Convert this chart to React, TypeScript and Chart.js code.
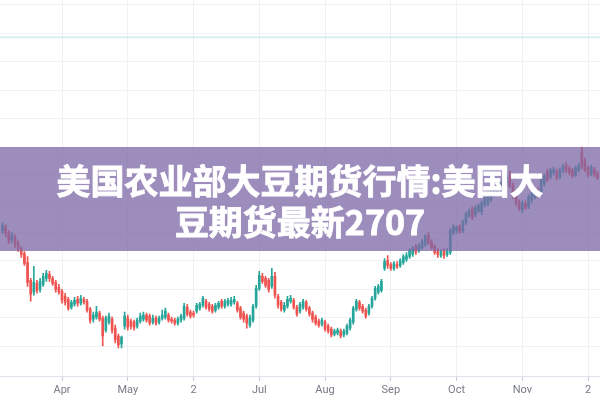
import React, { useEffect, useRef } from 'react';
import { Chart, registerables } from 'chart.js';

Chart.register(...registerables);

const monthLabels = ['Apr', 'May', '2', 'Jul', 'Aug', 'Sep', 'Oct', 'Nov', '2'];
const monthStartIndex = [19, 40, 61, 82, 103, 124, 145, 166, 187];

const opens = [
  1368, 1372, 1366, 1359, 1361, 1355, 1350, 1345, 1336, 1318,
  1306, 1315, 1309, 1314, 1320, 1324, 1320, 1316, 1311, 1307,
  1302, 1299, 1291, 1294, 1299, 1295, 1299, 1297, 1289, 1279,
  1281, 1285, 1280, 1268, 1276, 1279, 1270, 1262, 1254, 1272,
  1280, 1277, 1276, 1272, 1277, 1279, 1283, 1282, 1276, 1280,
  1276, 1280, 1281, 1283, 1279, 1278, 1275, 1278, 1280, 1291,
  1286, 1285, 1287, 1290, 1293, 1297, 1294, 1292, 1288, 1291,
  1297, 1292, 1294, 1294, 1296, 1295, 1290, 1285, 1282, 1273,
  1278, 1292, 1310, 1322, 1320, 1318, 1312, 1322, 1302, 1296,
  1288, 1292, 1297, 1298, 1291, 1287, 1291, 1296, 1290, 1285,
  1281, 1277, 1274, 1276, 1272, 1269, 1264, 1265, 1267, 1263,
  1265, 1270, 1276, 1289, 1296, 1292, 1288, 1285, 1292, 1300,
  1306, 1308, 1330, 1338, 1334, 1330, 1334, 1333, 1336, 1339,
  1342, 1344, 1352, 1348, 1351, 1354, 1363, 1357, 1352, 1348,
  1343, 1348, 1344, 1346, 1366, 1368, 1372, 1368, 1376, 1383,
  1390, 1384, 1388, 1387, 1394, 1395, 1399, 1404, 1406, 1409,
  1413, 1415, 1422, 1413, 1404, 1396, 1389, 1395, 1392, 1399,
  1402, 1409, 1405, 1415, 1427, 1422, 1426, 1428, 1422, 1428,
  1434, 1431, 1429, 1424, 1429, 1447, 1438, 1431, 1425, 1430,
  1426,
];

const closes = [
  1373, 1366, 1358, 1363, 1354, 1350, 1344, 1335, 1316, 1304,
  1316, 1308, 1317, 1322, 1325, 1320, 1315, 1309, 1306, 1298,
  1296, 1290, 1296, 1298, 1295, 1300, 1296, 1288, 1278, 1283,
  1286, 1279, 1262, 1280, 1282, 1268, 1258, 1253, 1261, 1282,
  1271, 1272, 1271, 1278, 1282, 1283, 1278, 1275, 1280, 1275,
  1280, 1283, 1287, 1278, 1277, 1275, 1279, 1282, 1292, 1284,
  1282, 1283, 1293, 1294, 1300, 1291, 1289, 1287, 1293, 1295,
  1292, 1297, 1298, 1298, 1299, 1288, 1281, 1279, 1275, 1280,
  1292, 1310, 1323, 1317, 1313, 1309, 1322, 1303, 1293, 1289,
  1293, 1299, 1300, 1291, 1284, 1294, 1297, 1289, 1284, 1279,
  1275, 1273, 1278, 1269, 1267, 1263, 1267, 1268, 1262, 1267,
  1272, 1278, 1290, 1297, 1290, 1287, 1282, 1292, 1300, 1310,
  1312, 1317, 1337, 1333, 1330, 1335, 1332, 1338, 1342, 1343,
  1348, 1350, 1346, 1353, 1357, 1362, 1356, 1351, 1346, 1344,
  1347, 1343, 1347, 1368, 1372, 1371, 1367, 1377, 1385, 1388,
  1381, 1391, 1393, 1396, 1400, 1403, 1407, 1410, 1413, 1417,
  1420, 1423, 1413, 1403, 1396, 1390, 1396, 1391, 1402, 1406,
  1409, 1403, 1419, 1423, 1419, 1429, 1430, 1421, 1429, 1433,
  1428, 1426, 1423, 1431, 1433, 1432, 1429, 1424, 1432, 1424,
  1421,
];

const highs = [
  1376, 1374, 1368, 1366, 1364, 1358, 1352, 1347, 1342, 1320,
  1332, 1318, 1320, 1325, 1328, 1327, 1322, 1318, 1314, 1309,
  1305, 1301, 1298, 1301, 1302, 1303, 1301, 1299, 1291, 1286,
  1292, 1287, 1282, 1282, 1285, 1281, 1273, 1264, 1262, 1286,
  1283, 1279, 1278, 1280, 1285, 1286, 1285, 1284, 1283, 1282,
  1282, 1288, 1290, 1285, 1281, 1280, 1281, 1284, 1295, 1294,
  1288, 1287, 1295, 1296, 1302, 1299, 1296, 1294, 1295, 1297,
  1299, 1299, 1300, 1301, 1302, 1297, 1292, 1287, 1284, 1283,
  1294, 1313, 1327, 1325, 1322, 1320, 1330, 1326, 1304, 1298,
  1296, 1302, 1303, 1300, 1293, 1296, 1299, 1298, 1292, 1287,
  1283, 1279, 1280, 1278, 1274, 1271, 1269, 1270, 1269, 1269,
  1274, 1280, 1292, 1299, 1298, 1294, 1290, 1294, 1302, 1312,
  1314, 1319, 1340, 1343, 1336, 1337, 1337, 1340, 1344, 1346,
  1350, 1352, 1354, 1355, 1359, 1364, 1366, 1359, 1354, 1350,
  1349, 1350, 1350, 1370, 1374, 1373, 1374, 1379, 1387, 1390,
  1392, 1393, 1395, 1398, 1402, 1405, 1409, 1412, 1415, 1419,
  1422, 1426, 1428, 1416, 1407, 1399, 1398, 1398, 1404, 1408,
  1411, 1411, 1421, 1425, 1430, 1431, 1432, 1430, 1431, 1435,
  1437, 1433, 1431, 1433, 1436, 1452, 1441, 1433, 1434, 1432,
  1428,
];

const lows = [
  1365, 1362, 1355, 1356, 1351, 1347, 1341, 1333, 1312, 1297,
  1303, 1305, 1306, 1312, 1317, 1317, 1313, 1306, 1304, 1295,
  1293, 1288, 1289, 1292, 1292, 1293, 1294, 1286, 1275, 1276,
  1279, 1277, 1252, 1266, 1274, 1265, 1255, 1250, 1250, 1269,
  1268, 1269, 1268, 1270, 1275, 1277, 1276, 1273, 1274, 1273,
  1274, 1278, 1279, 1276, 1275, 1273, 1273, 1276, 1278, 1282,
  1280, 1281, 1285, 1288, 1291, 1289, 1287, 1285, 1286, 1289,
  1290, 1290, 1292, 1292, 1294, 1286, 1279, 1276, 1270, 1271,
  1276, 1290, 1308, 1315, 1311, 1306, 1310, 1300, 1290, 1287,
  1286, 1290, 1295, 1289, 1282, 1285, 1289, 1287, 1282, 1276,
  1273, 1271, 1272, 1267, 1265, 1261, 1262, 1263, 1260, 1261,
  1263, 1268, 1274, 1287, 1288, 1285, 1280, 1283, 1290, 1298,
  1304, 1306, 1328, 1330, 1328, 1328, 1330, 1331, 1334, 1337,
  1340, 1342, 1344, 1346, 1349, 1352, 1354, 1349, 1344, 1341,
  1341, 1340, 1342, 1344, 1364, 1365, 1365, 1366, 1374, 1381,
  1379, 1382, 1386, 1384, 1392, 1393, 1397, 1402, 1404, 1407,
  1411, 1413, 1411, 1400, 1393, 1388, 1386, 1389, 1390, 1396,
  1400, 1401, 1403, 1413, 1417, 1420, 1424, 1419, 1420, 1426,
  1426, 1424, 1421, 1422, 1427, 1430, 1427, 1422, 1423, 1422,
  1419,
];

const priceLineValue = 1562.5;
const gridLevels = [1595, 1566.4, 1537.8, 1509.2, 1480.6, 1452, 1423.4, 1394.8, 1366.2, 1337.6, 1309, 1280.4, 1251.8];
const titleLines = ['美国农业部大豆期货行情:美国大', '豆期货最新2707'];

const X_MIN = -0.8;
const X_MAX = 190.8;
const Y_MIN = 1221;
const Y_MAX = 1600;

export default function App() {
  const ref = useRef<HTMLCanvasElement>(null);

  useEffect(() => {
    const up = '#26a69a';
    const down = '#ef5350';
    const colors = opens.map((o, i) => (closes[i] >= o ? up : down));
    const body = opens.map((o, i) => ({ x: i, y: [o, closes[i]] }));
    const wick = opens.map((o, i) => ({ x: i, y: [lows[i], highs[i]] }));

    const chart = new Chart(ref.current as HTMLCanvasElement, {
      type: 'bar',
      data: {
        datasets: [
          {
            type: 'bar',
            data: body as any,
            backgroundColor: colors,
            barThickness: 2,
            grouped: false,
            borderWidth: 0,
          } as any,
          {
            type: 'bar',
            data: wick as any,
            backgroundColor: colors,
            barThickness: 1,
            grouped: false,
            borderWidth: 0,
          } as any,
          {
            type: 'line',
            data: [
              { x: X_MIN, y: priceLineValue },
              { x: X_MAX, y: priceLineValue },
            ],
            borderColor: 'rgba(38,166,154,0.18)',
            borderWidth: 2,
            pointRadius: 0,
          } as any,
        ],
      },
      options: {
        animation: false,
        responsive: true,
        maintainAspectRatio: false,
        layout: { padding: 0 },
        plugins: {
          legend: { display: false },
          tooltip: { enabled: false },
          title: { display: false },
        },
        scales: {
          x: {
            type: 'linear',
            min: X_MIN,
            max: X_MAX,
            offset: false,
            afterBuildTicks: (scale: any) => {
              scale.ticks = monthStartIndex.map((v) => ({ value: v }));
            },
            ticks: {
              autoSkip: false,
              maxRotation: 0,
              padding: 3,
              color: '#787b86',
              font: { family: 'Roboto, "DejaVu Sans", sans-serif', size: 11 },
              callback: (_v: any, index: number) => monthLabels[index],
            },
            grid: {
              offset: false,
              color: '#eff1f6',
              tickColor: '#c9ccd4',
              tickLength: 4,
              drawTicks: true,
            },
            border: { display: true, color: '#dfe2ea' },
          },
          y: {
            type: 'linear',
            position: 'right',
            min: Y_MIN,
            max: Y_MAX,
            afterBuildTicks: (scale: any) => {
              scale.ticks = gridLevels.map((v) => ({ value: v }));
            },
            ticks: { display: false },
            grid: { color: '#eff1f6', drawTicks: false },
            border: { display: false },
          },
        },
      } as any,
    });
    return () => chart.destroy();
  }, []);

  return (
    <div
      style={{
        position: 'fixed',
        left: 0,
        top: 0,
        width: 600,
        height: 400,
        background: '#ffffff',
        overflow: 'hidden',
      }}
    >
      <canvas ref={ref} />
      <div
        style={{
          position: 'absolute',
          left: 0,
          top: 147,
          width: 600,
          height: 104,
          background: 'rgba(124,103,166,0.75)',
          display: 'flex',
          flexDirection: 'column',
          justifyContent: 'center',
          alignItems: 'center',
          color: '#ffffff',
          fontFamily: '"Noto Sans CJK SC", "Noto Sans", sans-serif',
          fontWeight: 700,
          fontSize: 34,
          lineHeight: '41px',
          textAlign: 'center',
          paddingTop: 2,
          boxSizing: 'border-box',
          WebkitTextStroke: '0.8px #ffffff',
        }}
      >
        {titleLines.map((t) => (
          <div key={t}>{t}</div>
        ))}
      </div>
    </div>
  );
}
